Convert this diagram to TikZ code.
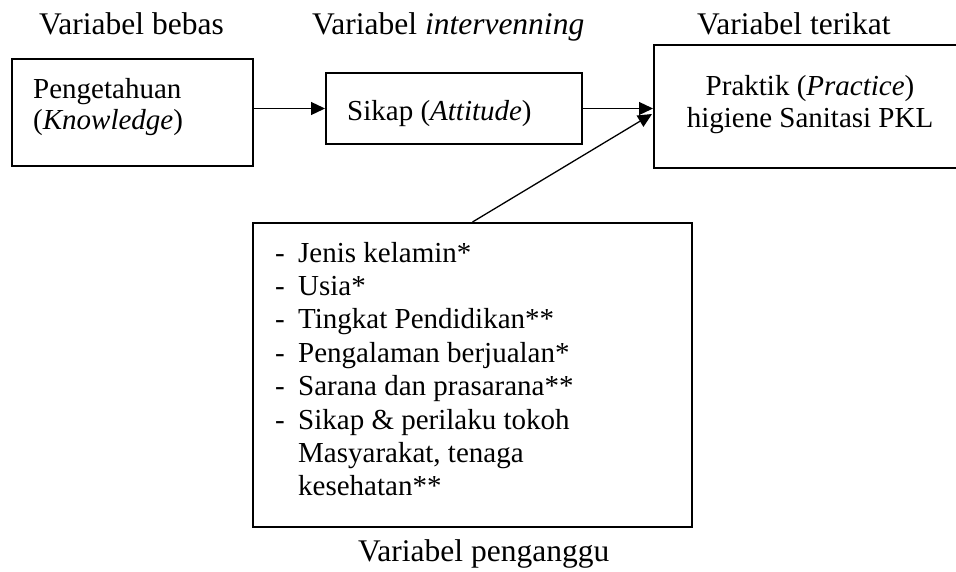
\documentclass[tikz,border=0pt]{standalone}
\usepackage{fontspec}
\setmainfont{Liberation Serif}
\usetikzlibrary{arrows.meta,calc}
\tikzset{
  box/.style={draw=black, line width=2pt, inner sep=0pt},
  arr/.style={line width=1.3pt, -{Triangle[length=14pt,width=13pt]}},
  txt/.style={inner sep=0pt, anchor=base west, font=\fontsize{29}{33}\selectfont},
  ctxt/.style={inner sep=0pt, anchor=base, font=\fontsize{29}{33}\selectfont},
  head/.style={inner sep=0pt, anchor=base west, font=\fontsize{31.5}{36}\selectfont}
}
\begin{document}
\begin{tikzpicture}[x=1pt,y=-1pt]
\useasboundingbox (0,0) rectangle (956,571);
% boxes
\node[box, minimum width=241pt, minimum height=107pt] (b1) at (132.5,112.5) {};
\node[box, minimum width=256pt, minimum height=71pt] (b2) at (454,108.5) {};
\node[box, minimum width=312pt, minimum height=123pt] (b3) at (810,106.5) {};
\node[box, minimum width=439pt, minimum height=304pt] (b4) at (472.5,375) {};
% headers
\node[head] (h1) at (39,34) {Variabel bebas};
\node[head] (h2) at (312,34) {Variabel \textit{intervenning}};
\node[head] (h3) at (697,34) {Variabel terikat};
\node[head] (h4) at (358,561) {Variabel penganggu};
% box texts
\node[txt] (t1a) at (33,98) {Pengetahuan};
\node[txt] (t1b) at (33,129) {(\textit{Knowledge})};
\node[txt] (t2) at (347,120) {Sikap (\textit{Attitude})};
\node[ctxt] (t3a) at (810,95) {Praktik (\textit{Practice})};
\node[ctxt] (t3b) at (810,127) {higiene Sanitasi PKL};
% list
\foreach \i/\s in {0/Jenis kelamin*, 1/Usia*, 2/Tingkat Pendidikan**, 3/Pengalaman berjualan*, 4/Sarana dan prasarana**, 5/Sikap \& perilaku tokoh}{
  \node[txt] (d\i) at (275,262+33.4*\i) {-};
  \node[txt] (l\i) at (298,262+33.4*\i) {\s};
}
\node[txt] (l6) at (298,262+33.4*6) {Masyarakat, tenaga};
\node[txt] (l7) at (298,262+33.4*7) {kesehatan**};
% connectors
\draw[arr] (b1.east |- b2.west) -- (b2.west);
\draw[arr] (b2.east) -- (b2.east -| b3.west);
\coordinate (tip) at ($(b3.west)+(-1,7.5)$);
\draw[arr] (b4.north) -- (tip);
\end{tikzpicture}
\end{document}
